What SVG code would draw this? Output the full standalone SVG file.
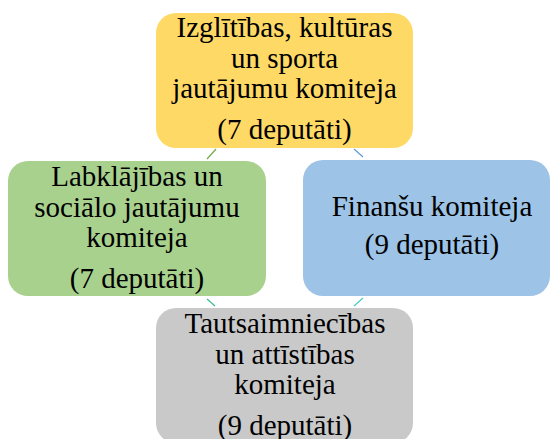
<svg xmlns="http://www.w3.org/2000/svg" width="551" height="439" viewBox="0 0 551 439">
<style>
.box{stroke:none}
.t{font-family:"Liberation Serif","Times New Roman",serif;font-size:29px;fill:#000;text-anchor:middle}
.c{fill:none;stroke-width:1.2}
</style>
<rect width="551" height="439" fill="#fff"/>
<g id="connectors">
<line class="c" x1="216" y1="149" x2="207" y2="159" stroke="#70AD47"/>
<line class="c" x1="354" y1="149" x2="363" y2="157" stroke="#5B9BD5"/>
<line class="c" x1="207" y1="299" x2="215" y2="306" stroke="#3DBE8A"/>
<line class="c" x1="354" y1="306" x2="363" y2="298" stroke="#46C8C0"/>
</g>
<g id="node-izglitiba">
<rect class="box" x="156" y="13" width="257" height="135" rx="20" fill="#FFD966"/>
<text class="t" x="284.5" y="37">Izglītības, kultūras</text>
<text class="t" x="284.5" y="68">un sporta</text>
<text class="t" x="284.5" y="98">jautājumu komiteja</text>
<text class="t" x="284.5" y="139">(7 deputāti)</text>
</g>
<g id="node-labklajiba">
<rect class="box" x="8" y="161" width="258" height="135" rx="20" fill="#A9D18E"/>
<text class="t" x="137" y="186">Labklājības un</text>
<text class="t" x="137" y="217">sociālo jautājumu</text>
<text class="t" x="137" y="247">komiteja</text>
<text class="t" x="137" y="288">(7 deputāti)</text>
</g>
<g id="node-finanses">
<rect class="box" x="303" y="160" width="247" height="136" rx="20" fill="#9DC3E6"/>
<text class="t" x="432" y="216">Finanšu komiteja</text>
<text class="t" x="432" y="254">(9 deputāti)</text>
</g>
<g id="node-tautsaimnieciba">
<rect class="box" x="156" y="308" width="257" height="135" rx="20" fill="#C9C9C9"/>
<text class="t" x="285" y="333">Tautsaimniecības</text>
<text class="t" x="285" y="364">un attīstības</text>
<text class="t" x="285" y="394">komiteja</text>
<text class="t" x="285" y="435">(9 deputāti)</text>
</g>
</svg>
